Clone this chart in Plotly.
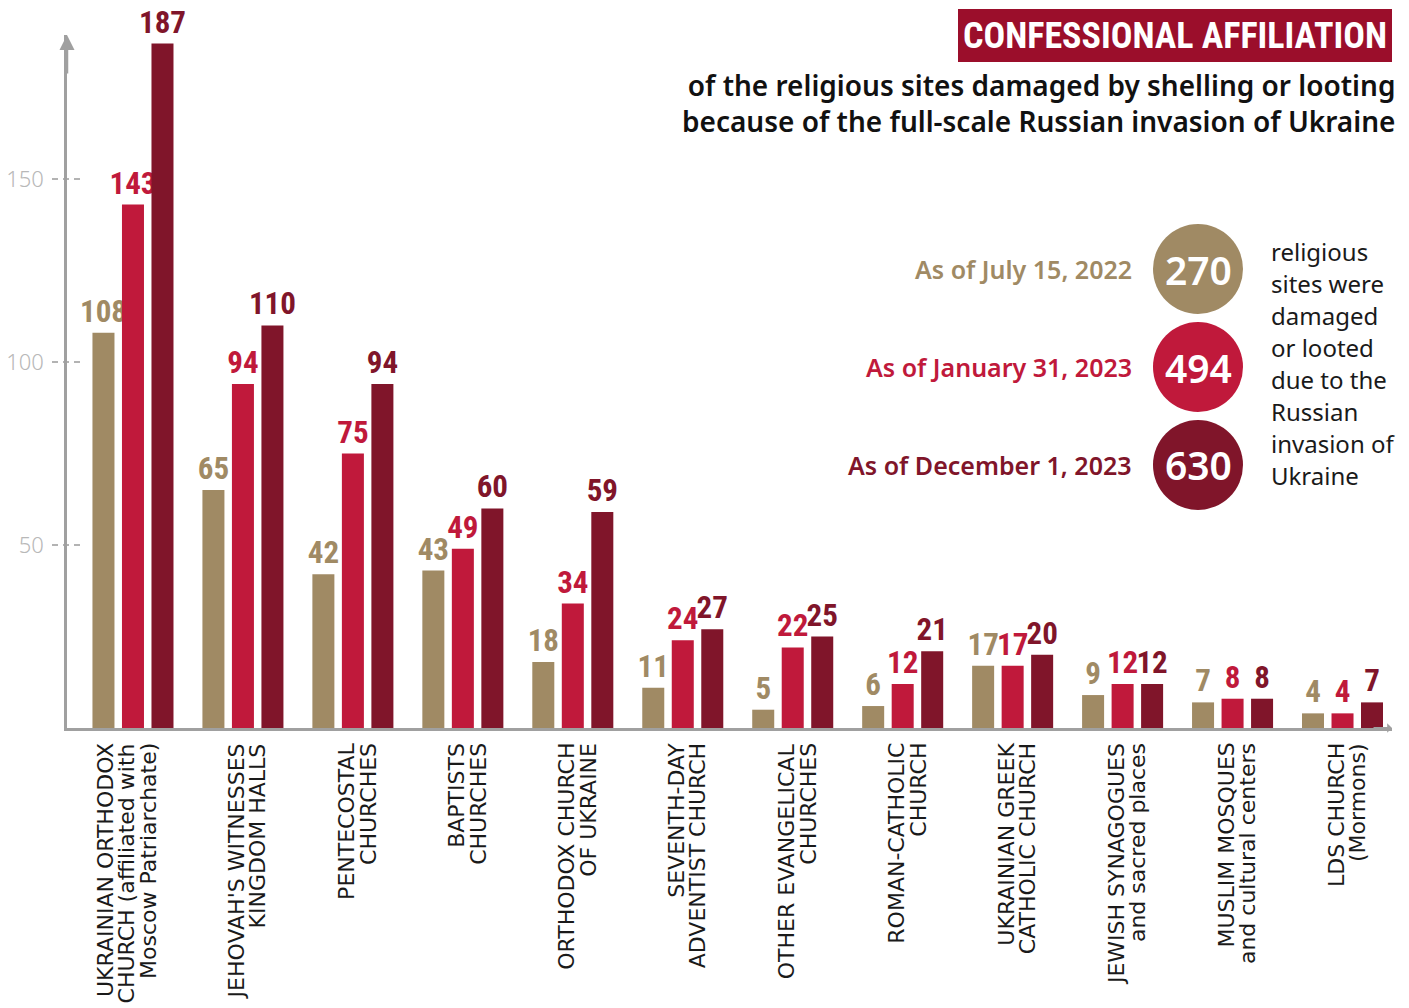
import plotly.graph_objects as go

# ---------------- data ----------------
categories = [
    "UOC-MP", "Jehovah's Witnesses", "Pentecostal", "Baptists", "OCU",
    "Seventh-day Adventist", "Other Evangelical", "Roman-Catholic", "UGCC",
    "Jewish", "Muslim", "LDS",
]
label_lines = [
    ["UKRAINIAN ORTHODOX", "CHURCH (affiliated with", "Moscow Patriarchate)"],
    ["JEHOVAH'S WITNESSES", "KINGDOM HALLS"],
    ["PENTECOSTAL", "CHURCHES"],
    ["BAPTISTS", "CHURCHES"],
    ["ORTHODOX CHURCH", "OF UKRAINE"],
    ["SEVENTH-DAY", "ADVENTIST CHURCH"],
    ["OTHER EVANGELICAL", "CHURCHES"],
    ["ROMAN-CATHOLIC", "CHURCH"],
    ["UKRAINIAN GREEK", "CATHOLIC CHURCH"],
    ["JEWISH SYNAGOGUES", "and sacred places"],
    ["MUSLIM MOSQUES", "and cultural centers"],
    ["LDS CHURCH", "(Mormons)"],
]
jul_2022 = [108, 65, 42, 43, 18, 11, 5, 6, 17, 9, 7, 4]
jan_2023 = [143, 94, 75, 49, 34, 24, 22, 12, 17, 12, 8, 4]
dec_2023 = [187, 110, 94, 60, 59, 27, 25, 21, 20, 12, 8, 7]

series_names = ["As of July 15, 2022", "As of January 31, 2023", "As of December 1, 2023"]
series_totals = [270, 494, 630]
y_ticks = [50, 100, 150]
title_text = "CONFESSIONAL AFFILIATION"
subtitle_lines = ["of the religious sites damaged by shelling or looting",
                  "because of the full-scale Russian invasion of Ukraine"]
side_text = ["religious", "sites were", "damaged", "or looted", "due to the",
             "Russian", "invasion of", "Ukraine"]

# ---------------- style ----------------
colors = ["#a08a64", "#c0193b", "#80152a"]
title_bg = "#9b0e2b"
axis_gray = "#a0a0a0"
narrow = ("Noto Sans ExtraCondensed, Noto Sans Condensed, Roboto Condensed, "
          "DejaVu Sans Condensed, Liberation Sans Narrow, Noto Sans, sans-serif")
sans = "Noto Sans, Open Sans, DejaVu Sans, sans-serif"
wide = "DejaVu Sans, Noto Sans, sans-serif"

W, H = 1409, 1008
ML, MR, MT, MB = 67, 17, 35, 280
PW, PH = W - ML - MR, H - MT - MB
LINE_PITCH = 21.5


def px_x(p):
    return (p - ML) / PW


def px_y(p):
    return (H - MB - p) / PH


fig = go.Figure()
for name, vals, col in zip(series_names, [jul_2022, jan_2023, dec_2023], colors):
    fig.add_trace(go.Bar(
        x=categories, y=vals, name=name, marker=dict(color=col, line=dict(width=0)),
        text=vals, texttemplate="%{text}", textposition="outside",
        outsidetextfont=dict(family=narrow, size=31, color=col, weight="bold"),
        constraintext="none", cliponaxis=False, hoverinfo="skip",
    ))

fig.update_layout(
    width=W, height=H,
    margin=dict(l=ML, r=MR, t=MT, b=MB, pad=0, autoexpand=False),
    paper_bgcolor="white", plot_bgcolor="white",
    barmode="group", bargap=0.195, bargroupgap=0.254,
    showlegend=False,
    font=dict(family=sans, color="#1a1a1a"),
    xaxis=dict(
        type="category", range=[-0.6, 11.45], showticklabels=False,
        showline=True, linecolor=axis_gray, linewidth=2.5, automargin=False,
        ticks="", showgrid=False, zeroline=False,
    ),
    yaxis=dict(
        range=[0, PH / 3.66], tickmode="array", tickvals=y_ticks,
        tickfont=dict(family=sans, size=22, color="#b8b8b8", weight=300),
        showline=True, linecolor=axis_gray, linewidth=2.5, automargin=False,
        ticks="", showgrid=False, zeroline=False, ticklabelstandoff=16,
    ),
)

shapes = []
for v in y_ticks:
    shapes.append(dict(type="line", xref="paper", yref="y",
                       x0=-15 / PW, x1=15 / PW, y0=v, y1=v,
                       line=dict(color="#9a9a9a", width=1.5, dash="6px,5px"), layer="below"))
shapes.append(dict(type="rect", xref="paper", yref="paper",
                   x0=px_x(958), x1=px_x(1392), y0=px_y(62), y1=px_y(9),
                   fillcolor=title_bg, line=dict(width=0)))
circle_y = [269, 367, 465]
for cy, col in zip(circle_y, colors):
    shapes.append(dict(type="circle", xref="paper", yref="paper",
                       xsizemode="pixel", ysizemode="pixel",
                       xanchor=px_x(1198), yanchor=px_y(cy),
                       x0=-45, x1=45, y0=-45, y1=45,
                       fillcolor=col, line=dict(width=0)))
fig.update_layout(shapes=shapes)

ann = []
# category labels, one rotated annotation per line
for cat, lines in zip(categories, label_lines):
    n = len(lines)
    for k, line in enumerate(lines):
        ann.append(dict(xref="x", yref="paper", x=cat, y=0,
                        xshift=15 - (n - 1 - k) * LINE_PITCH, yshift=-14,
                        xanchor="center", yanchor="top", textangle=-90,
                        showarrow=False, text=line, borderpad=0,
                        font=dict(family=wide, size=22, color="#1a1a1a")))
ann.append(dict(xref="paper", yref="paper", x=0, y=1, ax=0, ay=40, axref="pixel", ayref="pixel",
                text="", showarrow=True, arrowhead=2, arrowsize=1.2, arrowwidth=2.5, arrowcolor=axis_gray))
ann.append(dict(xref="paper", yref="paper", x=1, y=0, ax=-20, ay=0, axref="pixel", ayref="pixel",
                text="", showarrow=True, arrowhead=1, arrowsize=0.8, arrowwidth=2, arrowcolor=axis_gray))
ann.append(dict(xref="paper", yref="paper", x=(px_x(958) + px_x(1392)) / 2, y=px_y(36),
                xanchor="center", yanchor="middle", showarrow=False, text=title_text,
                font=dict(family=narrow, size=36, color="white", weight="bold")))
ann.append(dict(xref="paper", yref="paper", x=px_x(1396), y=px_y(103),
                xanchor="right", yanchor="middle", align="right", showarrow=False,
                text="<br>".join(subtitle_lines), borderpad=0,
                font=dict(family=sans, size=28, color="#111111", weight=600)))
for cy, col, name, tot in zip(circle_y, colors, series_names, series_totals):
    ann.append(dict(xref="paper", yref="paper", x=px_x(1134), y=px_y(cy),
                    xanchor="right", yanchor="middle", showarrow=False, text=name,
                    font=dict(family=sans, size=25, color=col, weight=600)))
    ann.append(dict(xref="paper", yref="paper", x=px_x(1198), y=px_y(cy),
                    xanchor="center", yanchor="middle", showarrow=False, text=str(tot),
                    font=dict(family=sans, size=39, color="white", weight=600)))
for i, line in enumerate(side_text):
    ann.append(dict(xref="paper", yref="paper", x=px_x(1269), y=px_y(251 + 32 * i),
                    xanchor="left", yanchor="middle", showarrow=False, text=line,
                    font=dict(family=sans, size=24, color="#1a1a1a")))
fig.update_layout(annotations=ann)

fig.write_html("out.html", config={"displayModeBar": False},
               post_script="document.body.style.margin='0';")
